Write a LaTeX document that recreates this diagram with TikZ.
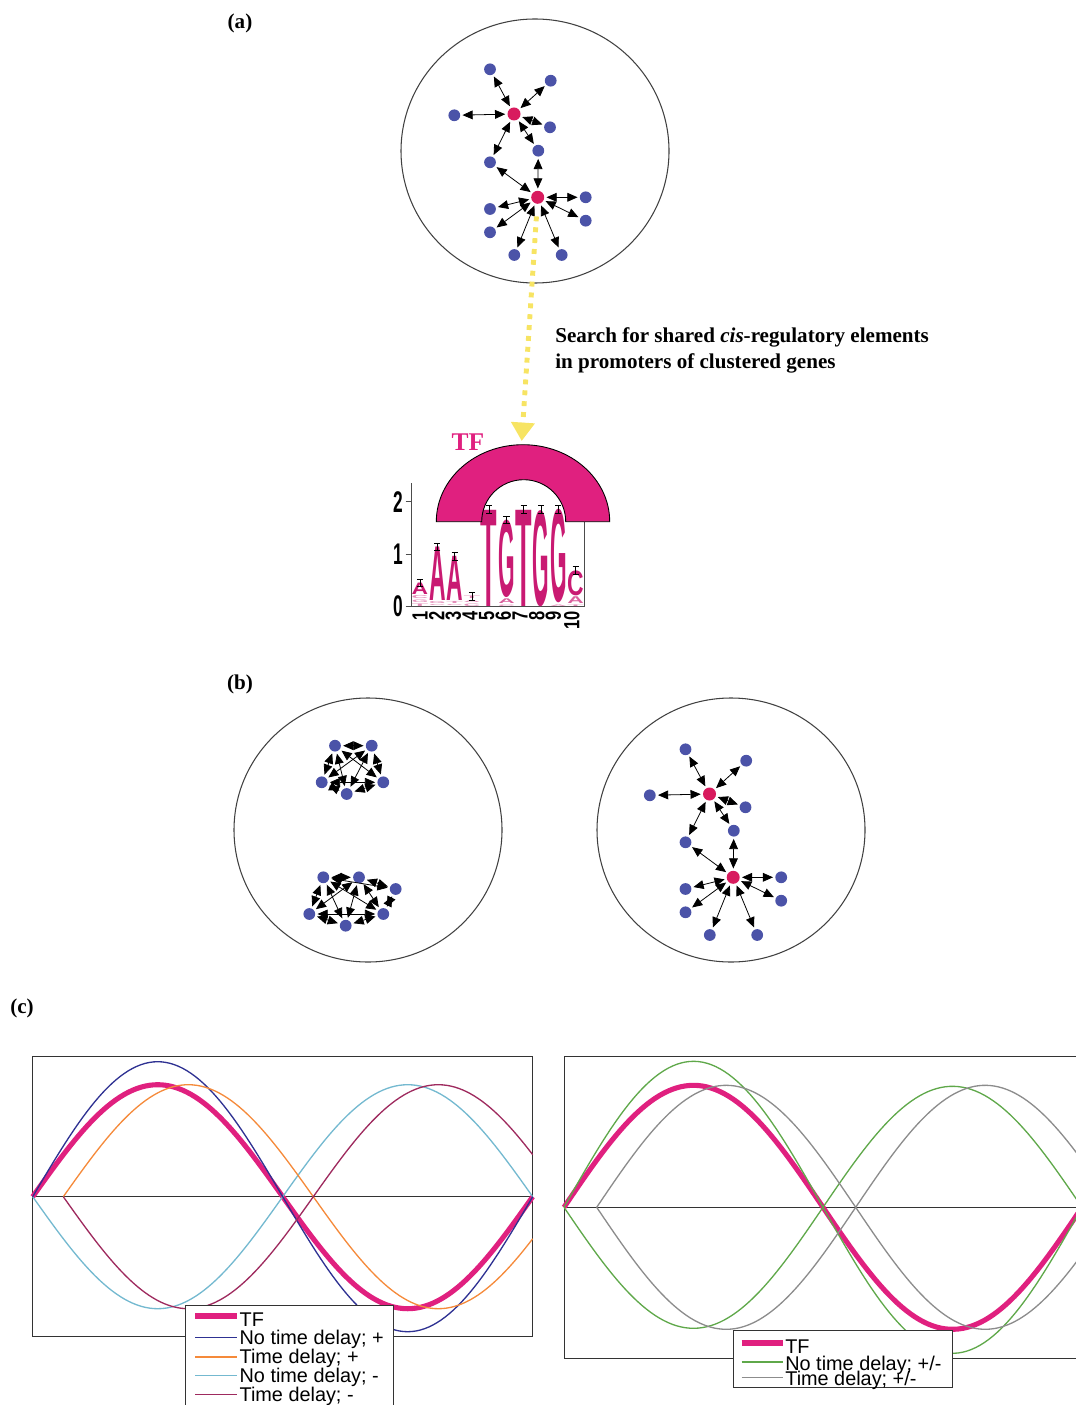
\documentclass[tikz,border=0pt]{standalone}
\usepackage{fontspec}
\setmainfont{Liberation Serif}
\setsansfont{Liberation Sans}
\usepackage{graphicx}
\usetikzlibrary{arrows.meta}

\definecolor{geneblue}{HTML}{4B53A8}
\definecolor{hubred}{HTML}{D81B5E}
\definecolor{tfmag}{HTML}{E0207F}
\definecolor{logomag}{HTML}{C91A72}
\definecolor{cueyellow}{HTML}{F7E463}
\definecolor{pdblue}{HTML}{2E3192}
\definecolor{porange}{HTML}{F58A3A}
\definecolor{plblue}{HTML}{74B9D0}
\definecolor{pplum}{HTML}{9E2A5E}
\definecolor{pgreen}{HTML}{5FA84A}
\definecolor{pgray}{HTML}{8C8C8C}

\tikzset{
  gene/.style={circle, fill=geneblue, inner sep=0pt, minimum size=6.7pt},
  hub/.style={circle, fill=hubred, inner sep=0pt, minimum size=7.4pt},
  link/.style={{Triangle[length=5.8pt,width=5pt]}-{Triangle[length=5.8pt,width=5pt]}, line width=0.45pt, shorten <=1.1pt, shorten >=1.1pt},
  cell/.style={draw=black!75, line width=0.6pt},
  panel/.style={font=\fontsize{12}{14}\selectfont\bfseries},
  frame/.style={draw=black!80, line width=0.5pt},
  wave/.style={line width=0.75pt, line join=round},
  tfwave/.style={draw=tfmag, line width=2.9pt, line join=round},
  legtext/.style={anchor=base west, inner sep=0pt, font=\fontsize{11.3}{13}\selectfont\sffamily},
  legbox/.style={draw=black!80, fill=white, line width=0.5pt},
  errbar/.style={black, line width=0.4pt, {Bar[width=3.5pt]}-{Bar[width=3.5pt]}},
  xtick/.style={rotate=90, anchor=east, inner sep=0pt, font=\fontsize{12.5}{13}\selectfont\sffamily\bfseries},
  ytick/.style={inner sep=0pt, font=\fontsize{17}{18}\selectfont\sffamily\bfseries},
}

% network of two hubs with their genes
\newcommand\hubnet[3]{%
  \begin{scope}[shift={(#2,#3)}]
    \node[hub] (#1h1) at (514,114) {};
    \node[hub] (#1h2) at (537.7,197.3) {};
    \node[gene] (#1g1) at (490,69.3) {};
    \node[gene] (#1g2) at (550.7,80.7) {};
    \node[gene] (#1g3) at (454.3,115.3) {};
    \node[gene] (#1g4) at (550,127.3) {};
    \node[gene] (#1g5) at (538.3,150.7) {};
    \node[gene] (#1g6) at (490,162.3) {};
    \node[gene] (#1g7) at (490,209) {};
    \node[gene] (#1g8) at (585.7,197.3) {};
    \node[gene] (#1g9) at (585.7,220.7) {};
    \node[gene] (#1g10) at (490,232.3) {};
    \node[gene] (#1g11) at (514.3,255) {};
    \node[gene] (#1g12) at (561.7,255) {};
    \draw[link] (#1h1) -- (#1g1);
    \draw[link] (#1h1) -- (#1g2);
    \draw[link] (#1h1) -- (#1g3);
    \draw[link] (#1h1) -- (#1g4);
    \draw[link] (#1h1) -- (#1g5);
    \draw[link] (#1h1) -- (#1g6);
    \draw[link] (#1h2) -- (#1g5);
    \draw[link] (#1h2) -- (#1g6);
    \draw[link] (#1h2) -- (#1g7);
    \draw[link] (#1h2) -- (#1g8);
    \draw[link] (#1h2) -- (#1g9);
    \draw[link] (#1h2) -- (#1g10);
    \draw[link] (#1h2) -- (#1g11);
    \draw[link] (#1h2) -- (#1g12);
  \end{scope}}

% one letter of the logo: name, column, bottom, top (bits), letter, colour
\newcommand\lgl[6]{%
  \pgfmathsetmacro\lglx{402.7+17.3*#2}%
  \pgfmathsetmacro\lgly{606.7-52*#3-0.6*(#3>0)}%
  \pgfmathsetmacro\lglh{29.6*(#4-#3)-0.6}%
  \node[anchor=south, inner sep=0pt, text=#6] (#1) at (\lglx,\lgly)
    {\resizebox*{9.4pt}{\lglh pt}{\sffamily\bfseries #5}};}
\newcommand\lgerr[2]{%
  \pgfmathsetmacro\lglx{402.7+17.3*#1}%
  \pgfmathsetmacro\lgly{606.7-52*#2}%
  \draw[errbar] (\lglx,\lgly+4) -- (\lglx,\lgly-4);}
\newcommand\thin[1]{\scalebox{0.75}[1]{#1}}

\begin{document}
\begin{tikzpicture}[x=0.02cm, y=-0.02cm]
  \useasboundingbox (0,0) rectangle (1075,1405);

  % --- (a) ---
  \node[panel] (lblA) at (240,23) {(a)};
  \draw[cell] (535,151) ellipse[x radius=134, y radius=132];
  \hubnet{a}{0}{0}

  \node[anchor=base west, inner sep=0pt, font=\fontsize{12}{14}\selectfont\bfseries]
    (srch1) at (555,343) {Search for shared \textit{cis}-regulatory elements};
  \node[anchor=base west, inner sep=0pt, font=\fontsize{12}{14}\selectfont\bfseries]
    (srch2) at (555,369) {in promoters of clustered genes};

  % sequence logo
  \draw[black!70, line width=0.5pt] (411.7,483) -- (411.7,606.7) -- (584.3,606.7) -- (584.3,521.7);
  \draw[black!70, line width=0.5pt] (405.5,501.7) -- (411.7,501.7);
  \draw[black!70, line width=0.5pt] (405.5,554.7) -- (411.7,554.7);
  \draw[black!70, line width=0.5pt] (405.5,606.7) -- (411.7,606.7);
  \node[ytick] (yl2) at (398,501.7) {\scalebox{0.58}[1]{2}};
  \node[ytick] (yl1) at (398,554.7) {\scalebox{0.58}[1]{1}};
  \node[ytick] (yl0) at (398,606.7) {\scalebox{0.58}[1]{0}};
  \node[xtick] (xl1) at (420,611) {\thin{1}};
  \node[xtick] (xl2) at (436.7,611) {\thin{2}};
  \node[xtick] (xl3) at (453.3,611) {\thin{3}};
  \node[xtick] (xl4) at (470,611) {\thin{4}};
  \node[xtick] (xl5) at (486.7,611) {\thin{5}};
  \node[xtick] (xl6) at (503.3,611) {\thin{6}};
  \node[xtick] (xl7) at (520,611) {\thin{7}};
  \node[xtick] (xl8) at (536.7,611) {\thin{8}};
  \node[xtick] (xl9) at (553.3,611) {\thin{9}};
  \node[xtick] (xl10) at (571.7,611) {\thin{10}};

  \lgl{l1t}{1}{0}{0.07}{T}{logomag!50}
  \lgl{l1g}{1}{0.07}{0.14}{G}{logomag!50}
  \lgl{l1c}{1}{0.14}{0.22}{C}{logomag!50}
  \lgl{l1a}{1}{0.22}{0.46}{A}{logomag}
  \lgl{l2c}{2}{0}{0.04}{C}{logomag!50}
  \lgl{l2g}{2}{0.04}{0.1}{G}{logomag!50}
  \lgl{l2a}{2}{0.1}{1.15}{A}{logomag}
  \lgl{l3c}{3}{0}{0.04}{C}{logomag!50}
  \lgl{l3t}{3}{0.04}{0.1}{T}{logomag!50}
  \lgl{l3a}{3}{0.1}{0.97}{A}{logomag}
  \lgl{l4c}{4}{0}{0.07}{C}{logomag!50}
  \lgl{l4a}{4}{0.07}{0.13}{A}{logomag!50}
  \lgl{l4t}{4}{0.13}{0.2}{T}{logomag!50}
  \lgl{l5t}{5}{0}{1.87}{T}{logomag}
  \lgl{l6c}{6}{0}{0.05}{C}{logomag!50}
  \lgl{l6a}{6}{0.05}{0.16}{A}{logomag!70}
  \lgl{l6g}{6}{0.16}{1.67}{G}{logomag}
  \lgl{l7t}{7}{0}{1.87}{T}{logomag}
  \lgl{l8g}{8}{0}{1.87}{G}{logomag}
  \lgl{l9a}{9}{0}{0.05}{A}{logomag!50}
  \lgl{l9g}{9}{0.05}{1.87}{G}{logomag}
  \lgl{l10t}{10}{0}{0.05}{T}{logomag!50}
  \lgl{l10a}{10}{0.05}{0.2}{A}{logomag!70}
  \lgl{l10c}{10}{0.2}{0.7}{C}{logomag}
  \lgerr{1}{0.46}
  \lgerr{2}{1.15}
  \lgerr{3}{0.97}
  \lgerr{4}{0.2}
  \lgerr{5}{1.87}
  \lgerr{6}{1.67}
  \lgerr{7}{1.87}
  \lgerr{8}{1.87}
  \lgerr{9}{1.87}
  \lgerr{10}{0.7}

  % TF cap sitting on the motif
  \path[draw=black, line width=0.5pt, fill=tfmag] (436.3,521.7)
    arc[start angle=180, end angle=360, x radius=86.7, y radius=77] -- (565.7,521.7)
    arc[start angle=0, end angle=-180, radius=42] -- cycle;
  \node[text=tfmag, font=\fontsize{14.5}{16}\selectfont\bfseries] (tfLbl) at (468,441.7) {TF};
  \coordinate (capTop) at (521.7,441);
  \draw[draw=cueyellow, line width=2.8pt, dash pattern=on 2.8pt off 3.4pt,
    -{Triangle[length=10.5pt,width=13pt]}, shorten <=7pt] (ah2) -- (capTop);

  % --- (b) ---
  \node[panel] (lblB) at (240,684) {(b)};
  \draw[cell] (368,830) ellipse[x radius=134, y radius=132];
  \draw[cell] (731,830) ellipse[x radius=134, y radius=132];
  % tight clusters
  \node[gene] (u1) at (335,745.7) {};
  \node[gene] (u2) at (371.7,745.7) {};
  \node[gene] (u3) at (321.7,782.3) {};
  \node[gene] (u4) at (383.3,782.3) {};
  \node[gene] (u5) at (346.7,794) {};
  \draw[link] (u1) -- (u2);
  \draw[link] (u1) -- (u3);
  \draw[link] (u1) -- (u4);
  \draw[link] (u1) -- (u5);
  \draw[link] (u2) -- (u3);
  \draw[link] (u2) -- (u4);
  \draw[link] (u2) -- (u5);
  \draw[link] (u3) -- (u5);
  \draw[link] (u4) -- (u5);
  \draw[link] (u3) -- (u4);
  \node[gene] (w1) at (323.3,877.3) {};
  \node[gene] (w2) at (359,877.3) {};
  \node[gene] (w3) at (395.7,889) {};
  \node[gene] (w4) at (309.3,914) {};
  \node[gene] (w5) at (383.3,914) {};
  \node[gene] (w6) at (345.7,925.7) {};
  \draw[link] (w1) -- (w2);
  \draw[link] (w2) -- (w3);
  \draw[link] (w1) -- (w4);
  \draw[link] (w4) -- (w6);
  \draw[link] (w6) -- (w5);
  \draw[link] (w5) -- (w3);
  \draw[link] (w1) -- (w5);
  \draw[link] (w1) -- (w6);
  \draw[link] (w2) -- (w4);
  \draw[link] (w2) -- (w6);
  \draw[link] (w2) -- (w5);
  \draw[link] (w1) -- (w3);
  \draw[link] (w4) -- (w5);
  % hub network
  \hubnet{b}{195.5}{680}

  % --- (c) ---
  \node[panel] (lblC) at (22,1008) {(c)};
  % positive and negative regulation
  \draw[frame] (32.7,1056) rectangle (532.3,1336.7);
  \draw[frame] (32.7,1196.7) -- (532.3,1196.7);
  \draw[tfwave] plot[domain=0:500, samples=121] ({32.7+\x},{1196.7-112*sin(0.72*\x)});
  \draw[wave, plblue] plot[domain=0:500, samples=121] ({32.7+\x},{1196.7+112*sin(0.72*\x)});
  \draw[wave, pdblue] plot[domain=0:500, samples=121] ({32.7+\x},{1196.7-135*sin(0.72*\x)});
  \draw[wave, porange] plot[domain=30.6:500, samples=121] ({32.7+\x},{1196.7-112*sin(0.72*(\x-30.6))});
  \draw[wave, pplum] plot[domain=30.6:500, samples=121] ({32.7+\x},{1196.7+112*sin(0.72*(\x-30.6))});
  \draw[legbox] (185,1305) rectangle (393.3,1412);
  \draw[tfmag, line width=2.9pt] (195,1316) -- (236.7,1316);
  \draw[pdblue, line width=0.9pt] (195,1337.3) -- (236.7,1337.3);
  \draw[porange, line width=0.9pt] (195,1356.7) -- (236.7,1356.7);
  \draw[plblue, line width=0.9pt] (195,1375.3) -- (236.7,1375.3);
  \draw[pplum, line width=0.9pt] (195,1394.3) -- (236.7,1394.3);
  \node[legtext] (kTF) at (239.3,1326) {TF};
  \node[legtext] (kNdP) at (239.3,1344.5) {No time delay; +};
  \node[legtext] (kTdP) at (239.3,1363.3) {Time delay; +};
  \node[legtext] (kNdM) at (239.3,1382.2) {No time delay; -};
  \node[legtext] (kTdM) at (239.3,1401) {Time delay; -};

  % dual regulation
  \draw[frame] (564,1056) rectangle (1090,1358.3);
  \draw[frame] (564,1207.3) -- (1090,1207.3);
  \draw[tfwave] plot[domain=0:520, samples=121] ({564+\x},{1207.3-122*sin(0.695*\x)});
  \draw[wave, pgreen] plot[domain=0:520, samples=121] ({564+\x},{1207.3-146*sin(0.695*\x)});
  \draw[wave, pgreen] plot[domain=0:520, samples=121] ({564+\x},{1207.3+121*sin(0.695*\x)});
  \draw[wave, pgray] plot[domain=32.7:520, samples=121] ({564+\x},{1207.3-122*sin(0.695*(\x-32.7))});
  \draw[wave, pgray] plot[domain=32.7:520, samples=121] ({564+\x},{1207.3+122*sin(0.695*(\x-32.7))});
  \draw[legbox] (733.3,1330) rectangle (952.7,1387.7);
  \draw[tfmag, line width=2.9pt] (741.7,1343) -- (783.3,1343);
  \draw[pgreen, line width=0.9pt] (741.7,1361.7) -- (783.3,1361.7);
  \draw[pgray, line width=0.9pt] (741.7,1377.3) -- (783.3,1377.3);
  \node[legtext] (mTF) at (785,1353.3) {TF};
  \node[legtext] (mNd) at (785,1370) {No time delay; +/-};
  \node[legtext] (mTd) at (785,1385) {Time delay; +/-};
\end{tikzpicture}
\end{document}
